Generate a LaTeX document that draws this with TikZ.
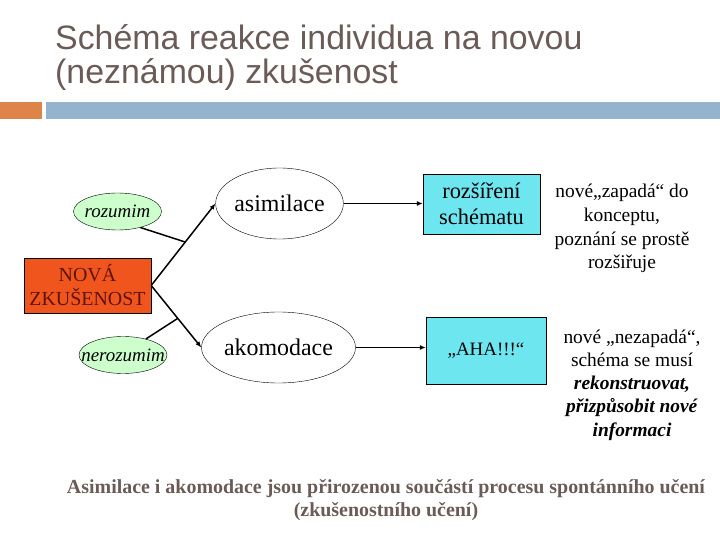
\documentclass[tikz,border=0pt]{standalone}
\usepackage{fontspec}
\setmainfont{Liberation Serif}
\newfontfamily\titlefont{Liberation Sans}
\usetikzlibrary{shapes.geometric,arrows.meta,calc}
\definecolor{titlegray}{RGB}{107,91,87}
\definecolor{barorange}{RGB}{223,132,73}
\definecolor{barblue}{RGB}{148,180,206}
\definecolor{newred}{RGB}{240,85,30}
\definecolor{newtext}{RGB}{95,20,10}
\definecolor{paleg}{RGB}{204,255,204}
\definecolor{schcyan}{RGB}{110,230,240}
\tikzset{
  ell/.style={ellipse,draw,thin,fill=white,inner sep=0pt},
  small ell/.style={ell,fill=paleg,minimum width=88bp,minimum height=37bp,font=\fontsize{19}{21}\selectfont\itshape},
  big ell/.style={ell,minimum width=126bp,minimum height=71bp,font=\fontsize{24}{26}\selectfont},
  schbox/.style={draw,thin,fill=schcyan,align=center,inner sep=0pt},
  conn/.style={line width=1.5bp},
  arr/.style={conn,-{Latex[length=6bp,width=5bp]}},
  note/.style={align=center,font=\fontsize{19.5}{24}\selectfont}
}
\begin{document}
\begin{tikzpicture}[x=1bp,y=-1bp]
        \useasboundingbox (0,0) rectangle (720,540);
        % title and bar
        \node[anchor=base west,align=left,text=titlegray,font=\titlefont\fontsize{34}{35}\selectfont,inner sep=0pt] (title) at (55,84)
            {Schéma reakce individua na novou\\(neznámou) zkušenost};
        \fill[barorange] (0,102) rectangle (42,119);
        \fill[barblue] (46,102) rectangle (720,119);
        % left part
        \node[draw,thin,fill=newred,text=newtext,minimum width=127bp,minimum height=55bp,align=center,inner sep=0pt,
            font=\fontsize{20}{24}\selectfont] (nova) at (87.5,285.5) {NOVÁ\\ZKUŠENOST};
        \node[small ell] (roz) at (117.5,211.5) {\makebox[0pt]{rozumim}};
        \node[small ell,minimum width=88bp,minimum height=37bp] (neroz) at (123,355) {\makebox[0pt]{nerozumim}};
        \node[big ell] (asim) at (279.5,203.5) {asimilace};
        \node[big ell] (akom) at (278.5,347.5) {akomodace};
        \draw[arr] (nova.east) -- (asim.west);
        \draw[arr] (nova.east) -- (akom.west);
        \coordinate (jup) at ($(nova.east)!0.53!(asim.west)$);
        \coordinate (jdn) at ($(nova.east)!0.53!(akom.west)$);
        \draw[conn] (roz.-35) -- (jup);
        \draw[conn] (neroz.35) -- (jdn);
        % right part
        \node[schbox,minimum width=117bp,minimum height=60bp,font=\fontsize{22.5}{26}\selectfont] (rozs) at (481.5,204) {rozšíření\\schématu};
        \node[schbox,minimum width=120bp,minimum height=67bp,font=\fontsize{19}{21}\selectfont] (aha) at (486,350.5) {,,AHA!!!“};
        \draw[arr] (asim.east) -- (asim.east -| rozs.west);
        \draw[arr] (akom.east) -- (akom.east -| aha.west);
        \node[note,anchor=base] (zap) at (622,269) {nové,,zapadá“ do\\konceptu,\\poznání se prostě\\rozšiřuje};
        \node[note,anchor=base,font=\fontsize{19.5}{23.3}\selectfont] (nezap) at (632,436) {nové ,,nezapadá“,\\schéma se musí\\\textbf{\textit{rekonstruovat,}}\\\textbf{\textit{přizpůsobit nové}}\\\textbf{\textit{informaci}}};
        % bottom line
        \node[anchor=base,align=center,text=titlegray,font=\bfseries\fontsize{20}{23}\selectfont] (sum) at (386,516)
            {Asimilace i akomodace jsou přirozenou součástí procesu spontánního učení\\(zkušenostního učení)};
\end{tikzpicture}
\end{document}
